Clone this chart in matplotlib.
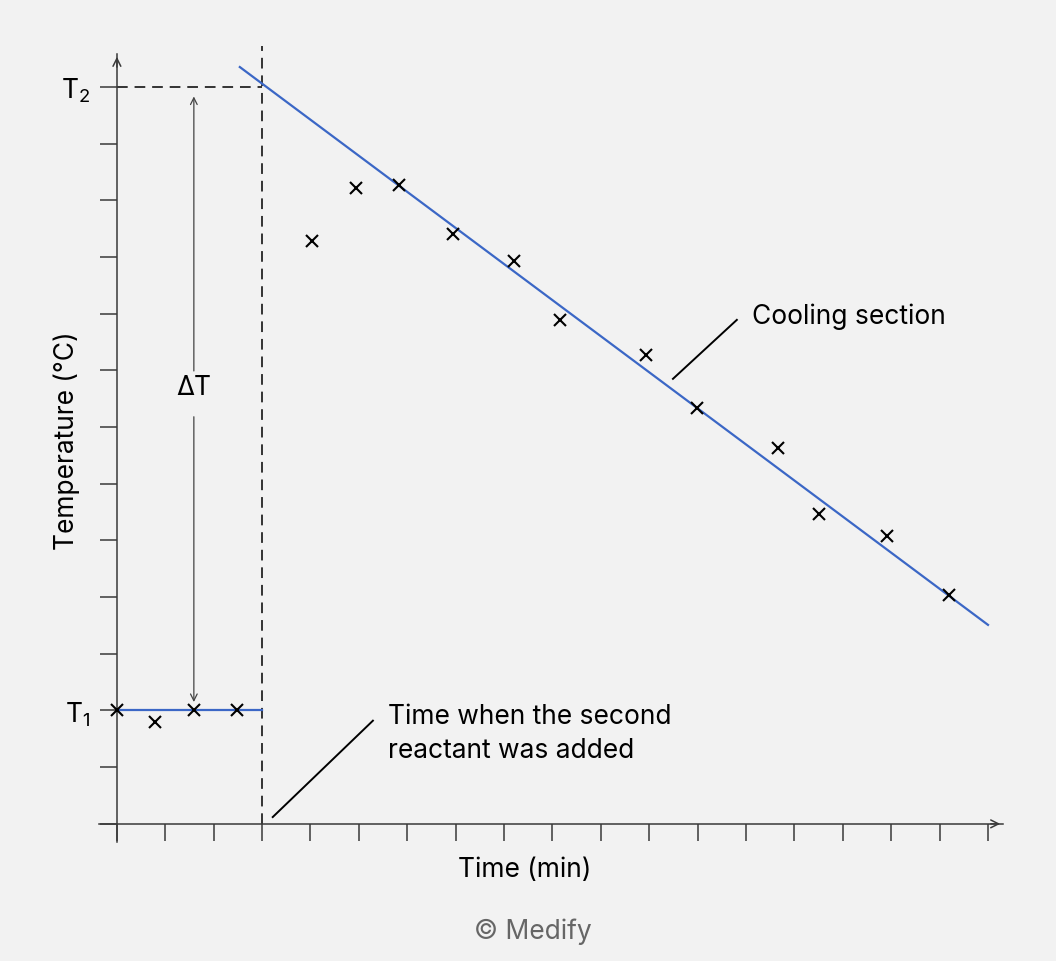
import numpy as np
import matplotlib.pyplot as plt

# readings, in tick units
t_before = [0.0, 0.78, 1.59, 2.48]
temp_before = [2.0, 1.8, 2.0, 2.0]

t_after = [4.03, 4.94, 5.83, 6.94, 8.2, 9.15, 10.93, 11.98, 13.66, 14.5, 15.91, 17.19]
temp_after = [10.28, 11.22, 11.27, 10.41, 9.93, 8.89, 8.27, 7.34, 6.63, 5.47, 5.08, 4.04]

T1 = 2
T2 = 13
t_add = 3
cool_t = [2.54, 18.0]
cool_temp = [13.35, 3.51]

x_ticks = np.arange(0, 19)
y_ticks = np.arange(0, 14)

bg = '#f2f2f2'
blue = '#3b67c6'
axis_col = '#3a3a3a'

plt.rcParams['font.family'] = ['Inter', 'DejaVu Sans']
plt.rcParams['mathtext.fontset'] = 'custom'
plt.rcParams['mathtext.rm'] = 'Inter'
fs = 19

fig = plt.figure(figsize=(10.56, 9.62), dpi=100, facecolor=bg)
ax = fig.add_axes([99 / 1056, 1 - 843 / 962, 904 / 1056, 788 / 962])
ax.set_facecolor(bg)
ax.set_xlim(-0.37, 18.31)
ax.set_ylim(-0.32, 13.58)

for s in ['top', 'right']:
    ax.spines[s].set_visible(False)
ax.spines['left'].set_position(('data', 0))
ax.spines['bottom'].set_position(('data', 0))
for s in ['left', 'bottom']:
    ax.spines[s].set_color(axis_col)
    ax.spines[s].set_linewidth(1.1)

ax.set_xticks(x_ticks)
ax.set_xticklabels([])
ylabels = [''] * len(y_ticks)
ylabels[T1] = r'$\mathregular{T_1}$'
ylabels[T2] = r'$\mathregular{T_2}$'
ax.set_yticks(y_ticks)
ax.set_yticklabels(ylabels, fontsize=fs)
ax.tick_params(axis='both', direction='out', length=12.2, width=1.1, color=axis_col, pad=7)

# arrow heads on the axes
ax.annotate('', xy=(18.31, 0), xytext=(18.0, 0),
            arrowprops=dict(arrowstyle='->', lw=1.1, color=axis_col, mutation_scale=14))
ax.annotate('', xy=(0, 13.58), xytext=(0, 13.3),
            arrowprops=dict(arrowstyle='->', lw=1.1, color=axis_col, mutation_scale=14))

# dashed guides
ax.plot([t_add, t_add], [0, 13.72], color='black', lw=1.1, dashes=(7, 4.5), clip_on=False)
ax.plot([0, t_add], [T2, T2], color='black', lw=1.1, dashes=(7, 4.5))

# fitted lines
ax.plot([0, t_add], [T1, T1], color=blue, lw=1.6, zorder=2)
ax.plot(cool_t, cool_temp, color=blue, lw=1.6, zorder=2, clip_on=False)

# measurements
ax.plot(t_before + t_after, temp_before + temp_after, 'x', color='black',
        ms=8.5, mew=1.5, zorder=3, clip_on=False)

# delta T double arrow
dt_x = 1.59
ax.annotate('', xy=(dt_x, 12.88), xytext=(dt_x, 7.94),
            arrowprops=dict(arrowstyle='->', lw=0.9, color='#444444', mutation_scale=12))
ax.annotate('', xy=(dt_x, 2.1), xytext=(dt_x, 7.23),
            arrowprops=dict(arrowstyle='->', lw=0.9, color='#444444', mutation_scale=12))
ax.text(dt_x, 7.71, 'ΔT', fontsize=fs, ha='center', va='center')

# callouts
ax.plot([11.49, 12.81], [7.85, 8.89], color='black', lw=1.4)
ax.text(13.12, 8.96, 'Cooling section', fontsize=fs, ha='left', va='center')
ax.plot([3.22, 5.29], [0.12, 1.82], color='black', lw=1.4)
ax.text(5.6, 1.6, 'Time when the second\nreactant was added', fontsize=fs,
        ha='left', va='center', linespacing=1.4)

fig.text(67 / 1056, 1 - 441 / 962, 'Temperature (°C)', fontsize=fs, rotation=90,
         ha='center', va='center')
fig.text(525 / 1056, 1 - 870 / 962, 'Time (min)', fontsize=fs, ha='center', va='center')
fig.text(533 / 1056, 1 - 932 / 962, '© Medify', fontsize=fs, ha='center', va='center',
         color='#666666')

fig.savefig('out.png', dpi=100, facecolor=bg)
